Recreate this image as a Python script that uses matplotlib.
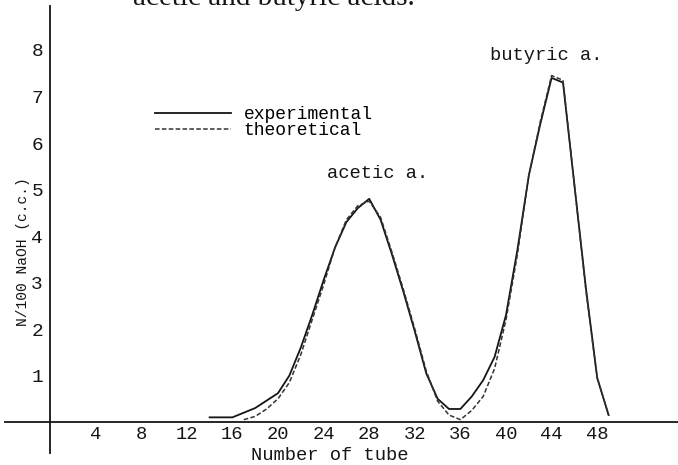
import matplotlib

matplotlib.use("Agg")
import matplotlib.pyplot as plt

# N/100 NaOH titre (c.c.) per tube
exp_tube = [14, 16, 18, 20, 21, 22, 23, 24, 25, 26, 27, 28, 29, 30, 31, 32, 33, 34,
            35, 36, 37, 38, 39, 40, 41, 42, 43, 44, 45, 46, 47, 48, 49]
exp_naoh = [0.1, 0.1, 0.3, 0.62, 1.0, 1.6, 2.3, 3.05, 3.75, 4.3, 4.6, 4.8, 4.35,
            3.6, 2.8, 1.95, 1.05, 0.5, 0.28, 0.28, 0.55, 0.9, 1.4, 2.3, 3.7, 5.3,
            6.4, 7.4, 7.3, 5.1, 2.9, 0.95, 0.15]

theo_tube = [17, 18, 19, 20, 21, 22, 23, 24, 25, 26, 27, 28, 29, 30, 31, 32, 33, 34,
             35, 36, 37, 38, 39, 40, 41, 42, 43, 44, 45, 46, 47, 48, 49]
theo_naoh = [0.05, 0.12, 0.28, 0.5, 0.85, 1.45, 2.2, 2.95, 3.75, 4.35, 4.65, 4.75,
             4.4, 3.65, 2.85, 2.0, 1.1, 0.45, 0.15, 0.05, 0.25, 0.55, 1.15, 2.2,
             3.6, 5.3, 6.45, 7.45, 7.35, 5.1, 2.85, 0.95, 0.15]

x_ticks = list(range(4, 49, 4))
y_ticks = list(range(1, 9))

W, H = 678, 465
MONO = "Liberation Mono"
INK = "#151515"


def fx(px):
    return px / W


def fy(py):
    return 1 - py / H


fig = plt.figure(figsize=(W / 100, H / 100), dpi=100)
ax = fig.add_axes([0, 0, 1, 1])
ax.set_xlim(-50 / 11.4, (W - 50) / 11.4)
ax.set_ylim(-(H - 422) / 46.5, 422 / 46.5)

ax.plot(exp_tube, exp_naoh, color=INK, lw=1.3, label="experimental")
ax.plot(theo_tube, theo_naoh, color="#333333", lw=1.1, ls=(0, (3, 1.5)),
        label="theoretical")

for s in ("top", "right"):
    ax.spines[s].set_visible(False)
ax.spines["left"].set_position(("data", 0))
ax.spines["bottom"].set_position(("data", 0))
ax.spines["left"].set_bounds(-0.67, 8.95)
ax.spines["bottom"].set_bounds(-3.95, 55.1)
for s in ("left", "bottom"):
    ax.spines[s].set_linewidth(1.3)
    ax.spines[s].set_color(INK)

ax.set_xticks(x_ticks)
ax.set_yticks(y_ticks)
ax.tick_params(axis="x", length=0, pad=3, labelsize=13.5)
ax.tick_params(axis="y", length=0, pad=5, labelsize=14)
for lab in ax.get_xticklabels() + ax.get_yticklabels():
    lab.set_family(MONO)
    lab.set_color(INK)

fig.text(fx(330), fy(455), "Number of tube", family=MONO, fontsize=13.5,
         ha="center", va="center", color=INK)
fig.text(fx(23), fy(252), "N/100 NaOH (c.c.)", family=MONO, fontsize=10.5,
         rotation=90, ha="center", va="center", color=INK)
fig.text(fx(327), fy(173), "acetic a.", family=MONO, fontsize=13.5,
         ha="left", va="center", color=INK)
fig.text(fx(490), fy(55), "butyric a.", family=MONO, fontsize=13.5,
         ha="left", va="center", color=INK)
# caption line, cut off by the top edge of the scan
fig.text(fx(133), fy(5), "acetic and butyric acids.", family="Liberation Serif",
         fontsize=21, ha="left", va="baseline", color=INK)

ax.legend(loc="upper left", bbox_to_anchor=(fx(155), fy(106)),
          bbox_transform=fig.transFigure, frameon=False, borderpad=0,
          borderaxespad=0, handlelength=4.2, handletextpad=0.7,
          labelspacing=-0.05, prop={"family": MONO, "size": 13})

fig.savefig("out.png", dpi=100)
